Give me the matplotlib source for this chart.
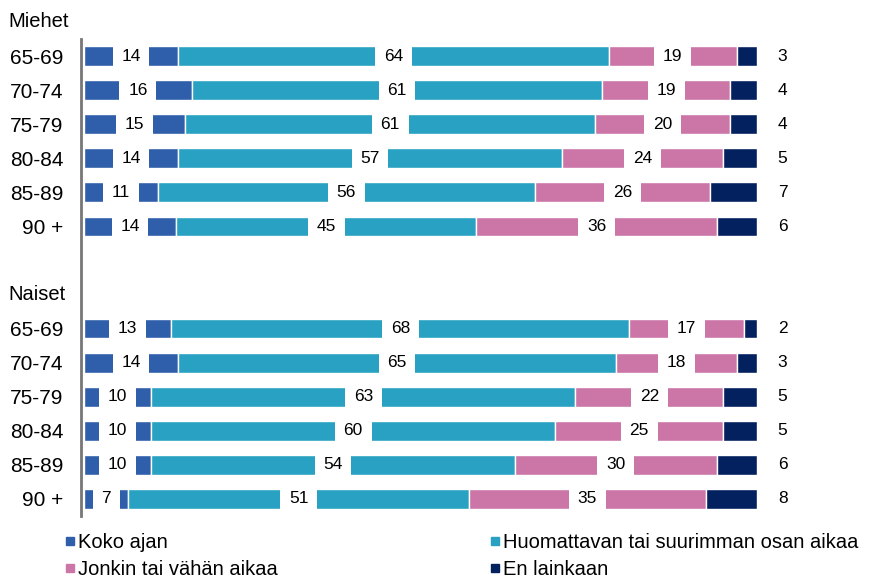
import matplotlib.pyplot as plt
from matplotlib.lines import Line2D
from matplotlib.transforms import blended_transform_factory
import numpy as np

plt.rcParams["font.family"] = ["Liberation Sans", "DejaVu Sans"]

ages = ["65-69", "70-74", "75-79", "80-84", "85-89", "90 +"]
series = ["Koko ajan", "Huomattavan tai suurimman osan aikaa", "Jonkin tai vähän aikaa", "En lainkaan"]
colors = ["#2F5FAB", "#29A1C2", "#CC76A8", "#03205F"]

# shares (%) per age group, columns follow `series`
miehet = np.array([
    [14, 64, 19, 3],
    [16, 61, 19, 4],
    [15, 61, 20, 4],
    [14, 57, 24, 5],
    [11, 56, 26, 7],
    [13.7, 44.6, 35.7, 6.0],
])
naiset = np.array([
    [13, 68, 17, 2],
    [14, 65, 18, 3],
    [10, 63, 22, 5],
    [10, 60, 25, 5],
    [10, 54, 30, 6],
    [6.6, 50.6, 35.2, 7.6],
])

groups = [("Miehet", 0, miehet), ("Naiset", 8, naiset)]

W, H = 876, 580
fig = plt.figure(figsize=(W / 100, H / 100), dpi=100)
ax = fig.add_axes([84 / W, 1 - 516 / H, 673 / W, 477 / H])
ax.set_xlim(0, 100)
ax.set_ylim(13.5, -0.5)

for title, start, values in groups:
    ypos = np.arange(start, start + len(ages))
    left = np.zeros(len(ages))
    for j, (name, color) in enumerate(zip(series, colors)):
        vals = values[:, j]
        ax.barh(ypos, vals, left=left, height=0.58, color=color,
                edgecolor="white", linewidth=1)
        for y, l, v in zip(ypos, left, vals):
            label = f"{v:.0f}"
            if j == len(series) - 1:
                ax.text(103.8, y, label, ha="center", va="center",
                        fontsize=12.5, clip_on=False)
            else:
                ax.text(l + v / 2, y, label, ha="center", va="center",
                        fontsize=12.5, zorder=5,
                        bbox=dict(boxstyle="square,pad=0.5", fc="white", ec="none"))
        left = left + vals

    trans = blended_transform_factory(fig.transFigure, ax.transData)
    ax.text(8 / W, start - 1, title, transform=trans, ha="left", va="center",
            fontsize=14.5, clip_on=False)

for side in ["top", "right", "bottom"]:
    ax.spines[side].set_visible(False)
ax.spines["left"].set_color("#777777")
ax.spines["left"].set_linewidth(2)
ax.spines["left"].set_position(("outward", 2))

yticks = list(range(0, 6)) + list(range(8, 14))
ax.set_yticks(yticks)
ax.set_yticklabels(ages + ages)
ax.tick_params(axis="y", length=0, pad=13, labelsize=15)
ax.set_xticks([])

handles = [Line2D([], [], marker="s", linestyle="none", markersize=6,
                  markerfacecolor=c, markeredgecolor=c) for c in colors]
order = [0, 2, 1, 3]
fig.legend([handles[i] for i in order], [series[i] for i in order],
           loc="upper left", bbox_to_anchor=(64 / W, 1 - 533 / H), ncol=2,
           frameon=False, fontsize=14.5, handlelength=0.6, handletextpad=0.1,
           columnspacing=10.5, labelspacing=0.42, borderaxespad=0, borderpad=0)

fig.savefig("out.png", dpi=100)
